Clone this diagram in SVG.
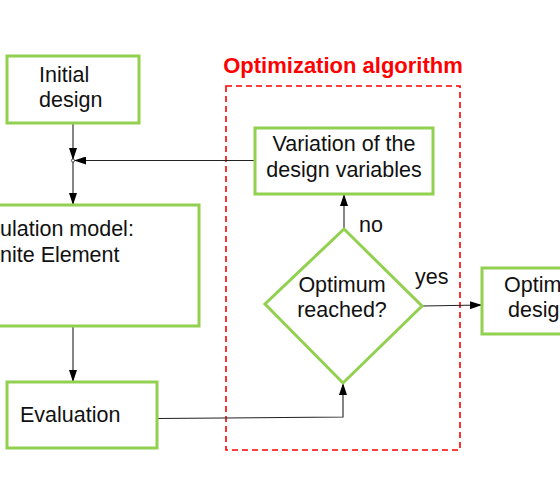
<svg xmlns="http://www.w3.org/2000/svg" width="560" height="492" viewBox="0 0 560 492">
<style>
.box{fill:#fff;stroke:#92D050;stroke-width:3}
.t{font-family:"Liberation Sans",Arial,sans-serif;font-size:21.5px;fill:#111}
.c{text-anchor:middle}
.ln{fill:none;stroke:#222;stroke-width:1.1}
</style>
<defs>
<marker id="ah" viewBox="0 0 12 8" refX="12" refY="4" markerWidth="12" markerHeight="8" markerUnits="userSpaceOnUse" orient="auto">
<path d="M0,0 L12,4 L0,8 Z" fill="#000"/>
</marker>
</defs>
<rect width="560" height="492" fill="#fff"/>
<g id="optim-algorithm">
<rect x="226" y="86" width="234" height="364" fill="none" stroke="#FF0000" stroke-width="1.6" stroke-dasharray="6,4"/>
<text x="343" y="73" class="t c" style="font-weight:bold;fill:#FF0000;font-size:22px">Optimization algorithm</text>
</g>
<g id="connectors">
<line x1="73" y1="123" x2="73" y2="160" class="ln" marker-end="url(#ah)"/>
<line x1="255" y1="160.5" x2="74" y2="160.5" class="ln" marker-end="url(#ah)"/>
<line x1="73" y1="161" x2="73" y2="205" class="ln" marker-end="url(#ah)"/>
<line x1="73" y1="326" x2="73" y2="382" class="ln" marker-end="url(#ah)"/>
<polyline points="157,418.5 343,417 343,383" class="ln" stroke="#555" marker-end="url(#ah)"/>
<line x1="344" y1="229" x2="344" y2="194" class="ln" marker-end="url(#ah)"/>
<line x1="422" y1="306" x2="482" y2="305" class="ln" stroke="#555" marker-end="url(#ah)"/>
<circle cx="73" cy="160.5" r="1.6" fill="#fff" stroke="#222" stroke-width="0.8"/>
<text x="359" y="232" class="t">no</text>
<text x="415" y="284" class="t">yes</text>
</g>
<g id="initial-design">
<rect x="7" y="56" width="132" height="67" class="box"/>
<text x="39" y="82" class="t">Initial</text>
<text x="39" y="107" class="t">design</text>
</g>
<g id="simulation-model">
<rect x="-110" y="205" width="309" height="121" class="box"/>
<text x="0" y="236" class="t">ulation model:</text>
<text x="0" y="262" class="t">nite Element</text>
</g>
<g id="evaluation">
<rect x="7" y="382" width="150" height="66" class="box"/>
<text x="20" y="422" class="t">Evaluation</text>
</g>
<g id="variation">
<rect x="255" y="128" width="178" height="66" class="box"/>
<text x="344" y="151" class="t c">Variation of the</text>
<text x="344" y="177" class="t c">design variables</text>
</g>
<g id="optimum-reached">
<polygon points="344,229 422,306 343,383 265,304" class="box"/>
<text x="342" y="292" class="t c">Optimum</text>
<text x="342" y="317" class="t c">reached?</text>
</g>
<g id="optimum-design">
<rect x="482" y="268" width="100" height="66" class="box"/>
<text x="504" y="292" class="t">Optim</text>
<text x="508" y="317" class="t">desig</text>
</g>
</svg>
